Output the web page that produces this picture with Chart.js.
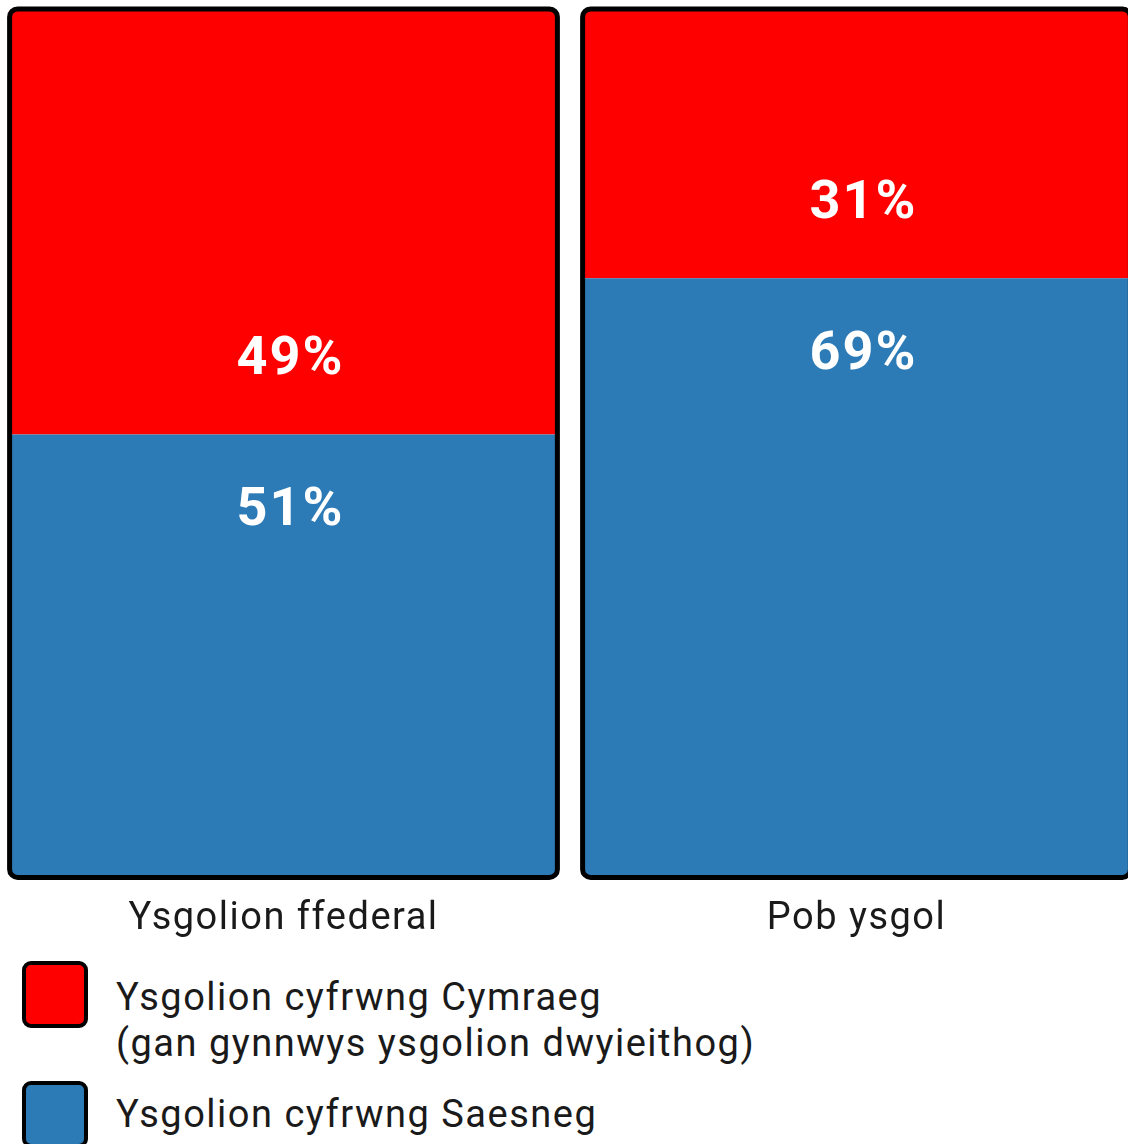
<!DOCTYPE html>
<html>
<head>
<meta charset="utf-8">
<script src="https://cdn.jsdelivr.net/npm/chart.js@4.4.1/dist/chart.umd.min.js"></script>
<style>
  html, body { margin: 0; padding: 0; background: #fff; overflow: hidden; width: 1128px; height: 1144px; }
  #wrap { position: absolute; left: -3px; top: 0; width: 1146px; height: 961px; }
  #legend { position: absolute; left: 22px; top: 961px; font-family: Roboto, sans-serif; font-size: 38px; letter-spacing: 1.5px; color: #1a1a1a; }
  .legend-item { display: flex; align-items: flex-start; margin-bottom: 15px; }
  .legend-box { width: 58px; height: 59px; border: 4px solid #000; border-radius: 9px; flex: none; }
  .legend-text { margin-left: 28px; line-height: 46px; margin-top: 13px; white-space: nowrap; }
  .legend-item + .legend-item .legend-text { margin-top: 10px; }
</style>
</head>
<body>
<div id="wrap"><canvas id="chart"></canvas></div>
<div id="legend"></div>
<script>
const categories = ["Ysgolion ffederal", "Pob ysgol"];
const cymraegValues = [49, 31];
const saesnegValues = [51, 69];
const cymraegLabel = ["Ysgolion cyfrwng Cymraeg", "(gan gynnwys ysgolion dwyieithog)"];
const saesnegLabel = ["Ysgolion cyfrwng Saesneg"];

const RED = "#ff0000";
const BLUE = "#2c7bb6";

// one black rounded outline round each whole stack
const stackOutline = {
  id: "stackOutline",
  beforeDraw(chart) {
    // the original text runs a little wider than plain Roboto
    chart.ctx.letterSpacing = "1.5px";
  },
  afterDatasetsDraw(chart) {
    const ctx = chart.ctx;
    const bottomBars = chart.getDatasetMeta(0).data;
    const topBars = chart.getDatasetMeta(1).data;

    topBars.forEach((bar, i) => {
      const low = bottomBars[i];
      const left = bar.x - bar.width / 2;
      const h = low.base - bar.y;
      ctx.save();
      ctx.lineWidth = 5;
      ctx.strokeStyle = "#000";
      ctx.beginPath();
      ctx.roundRect(left, bar.y, bar.width, h, 8);
      ctx.stroke();
      ctx.restore();
    });

    // percentage labels near the boundary between the two parts
    ctx.save();
    ctx.font = "bold 54px Roboto";
    ctx.letterSpacing = "2px";
    ctx.fillStyle = "#fff";
    ctx.textAlign = "center";
    ctx.textBaseline = "middle";
    topBars.forEach((bar, i) => {
      ctx.fillText(cymraegValues[i] + "%", bar.x + 7, bar.base - 74);
    });
    bottomBars.forEach((bar, i) => {
      ctx.fillText(saesnegValues[i] + "%", bar.x + 7, bar.y + 77);
    });
    ctx.restore();
  },
};

new Chart(document.getElementById("chart"), {
  type: "bar",
  data: {
    labels: categories,
    datasets: [
      {
        label: saesnegLabel.join(" "),
        data: saesnegValues,
        backgroundColor: BLUE,
        borderWidth: 0,
        borderSkipped: false,
        borderRadius: { bottomLeft: 8, bottomRight: 8 },
        barPercentage: 0.956,
        categoryPercentage: 1,
      },
      {
        label: cymraegLabel.join(" "),
        data: cymraegValues,
        backgroundColor: RED,
        borderWidth: 0,
        borderSkipped: false,
        borderRadius: { topLeft: 8, topRight: 8 },
        barPercentage: 0.956,
        categoryPercentage: 1,
      },
    ],
  },
  options: {
    responsive: true,
    maintainAspectRatio: false,
    animation: false,
    layout: { padding: { top: 9, left: 0, right: 0, bottom: 0 } },
    plugins: {
      legend: { display: false },
      tooltip: { enabled: false },
    },
    scales: {
      x: {
        stacked: true,
        grid: { display: false, drawTicks: false },
        border: { display: false },
        ticks: {
          color: "#1a1a1a",
          padding: 19,
          font: { family: "Roboto", size: 38 },
        },
      },
      y: {
        stacked: true,
        display: false,
        min: 0,
        max: 100,
      },
    },
  },
  plugins: [stackOutline],
});

// html legend, red first like the original
const legendItems = [
  { color: RED, lines: cymraegLabel },
  { color: BLUE, lines: saesnegLabel },
];
const legend = document.getElementById("legend");
legendItems.forEach((item) => {
  const div = document.createElement("div");
  div.className = "legend-item";
  div.innerHTML = `
    <span class="legend-box" style="background:${item.color}"></span>
    <span class="legend-text">${item.lines.join("<br>")}</span>
  `;
  legend.appendChild(div);
});
</script>
</body>
</html>
